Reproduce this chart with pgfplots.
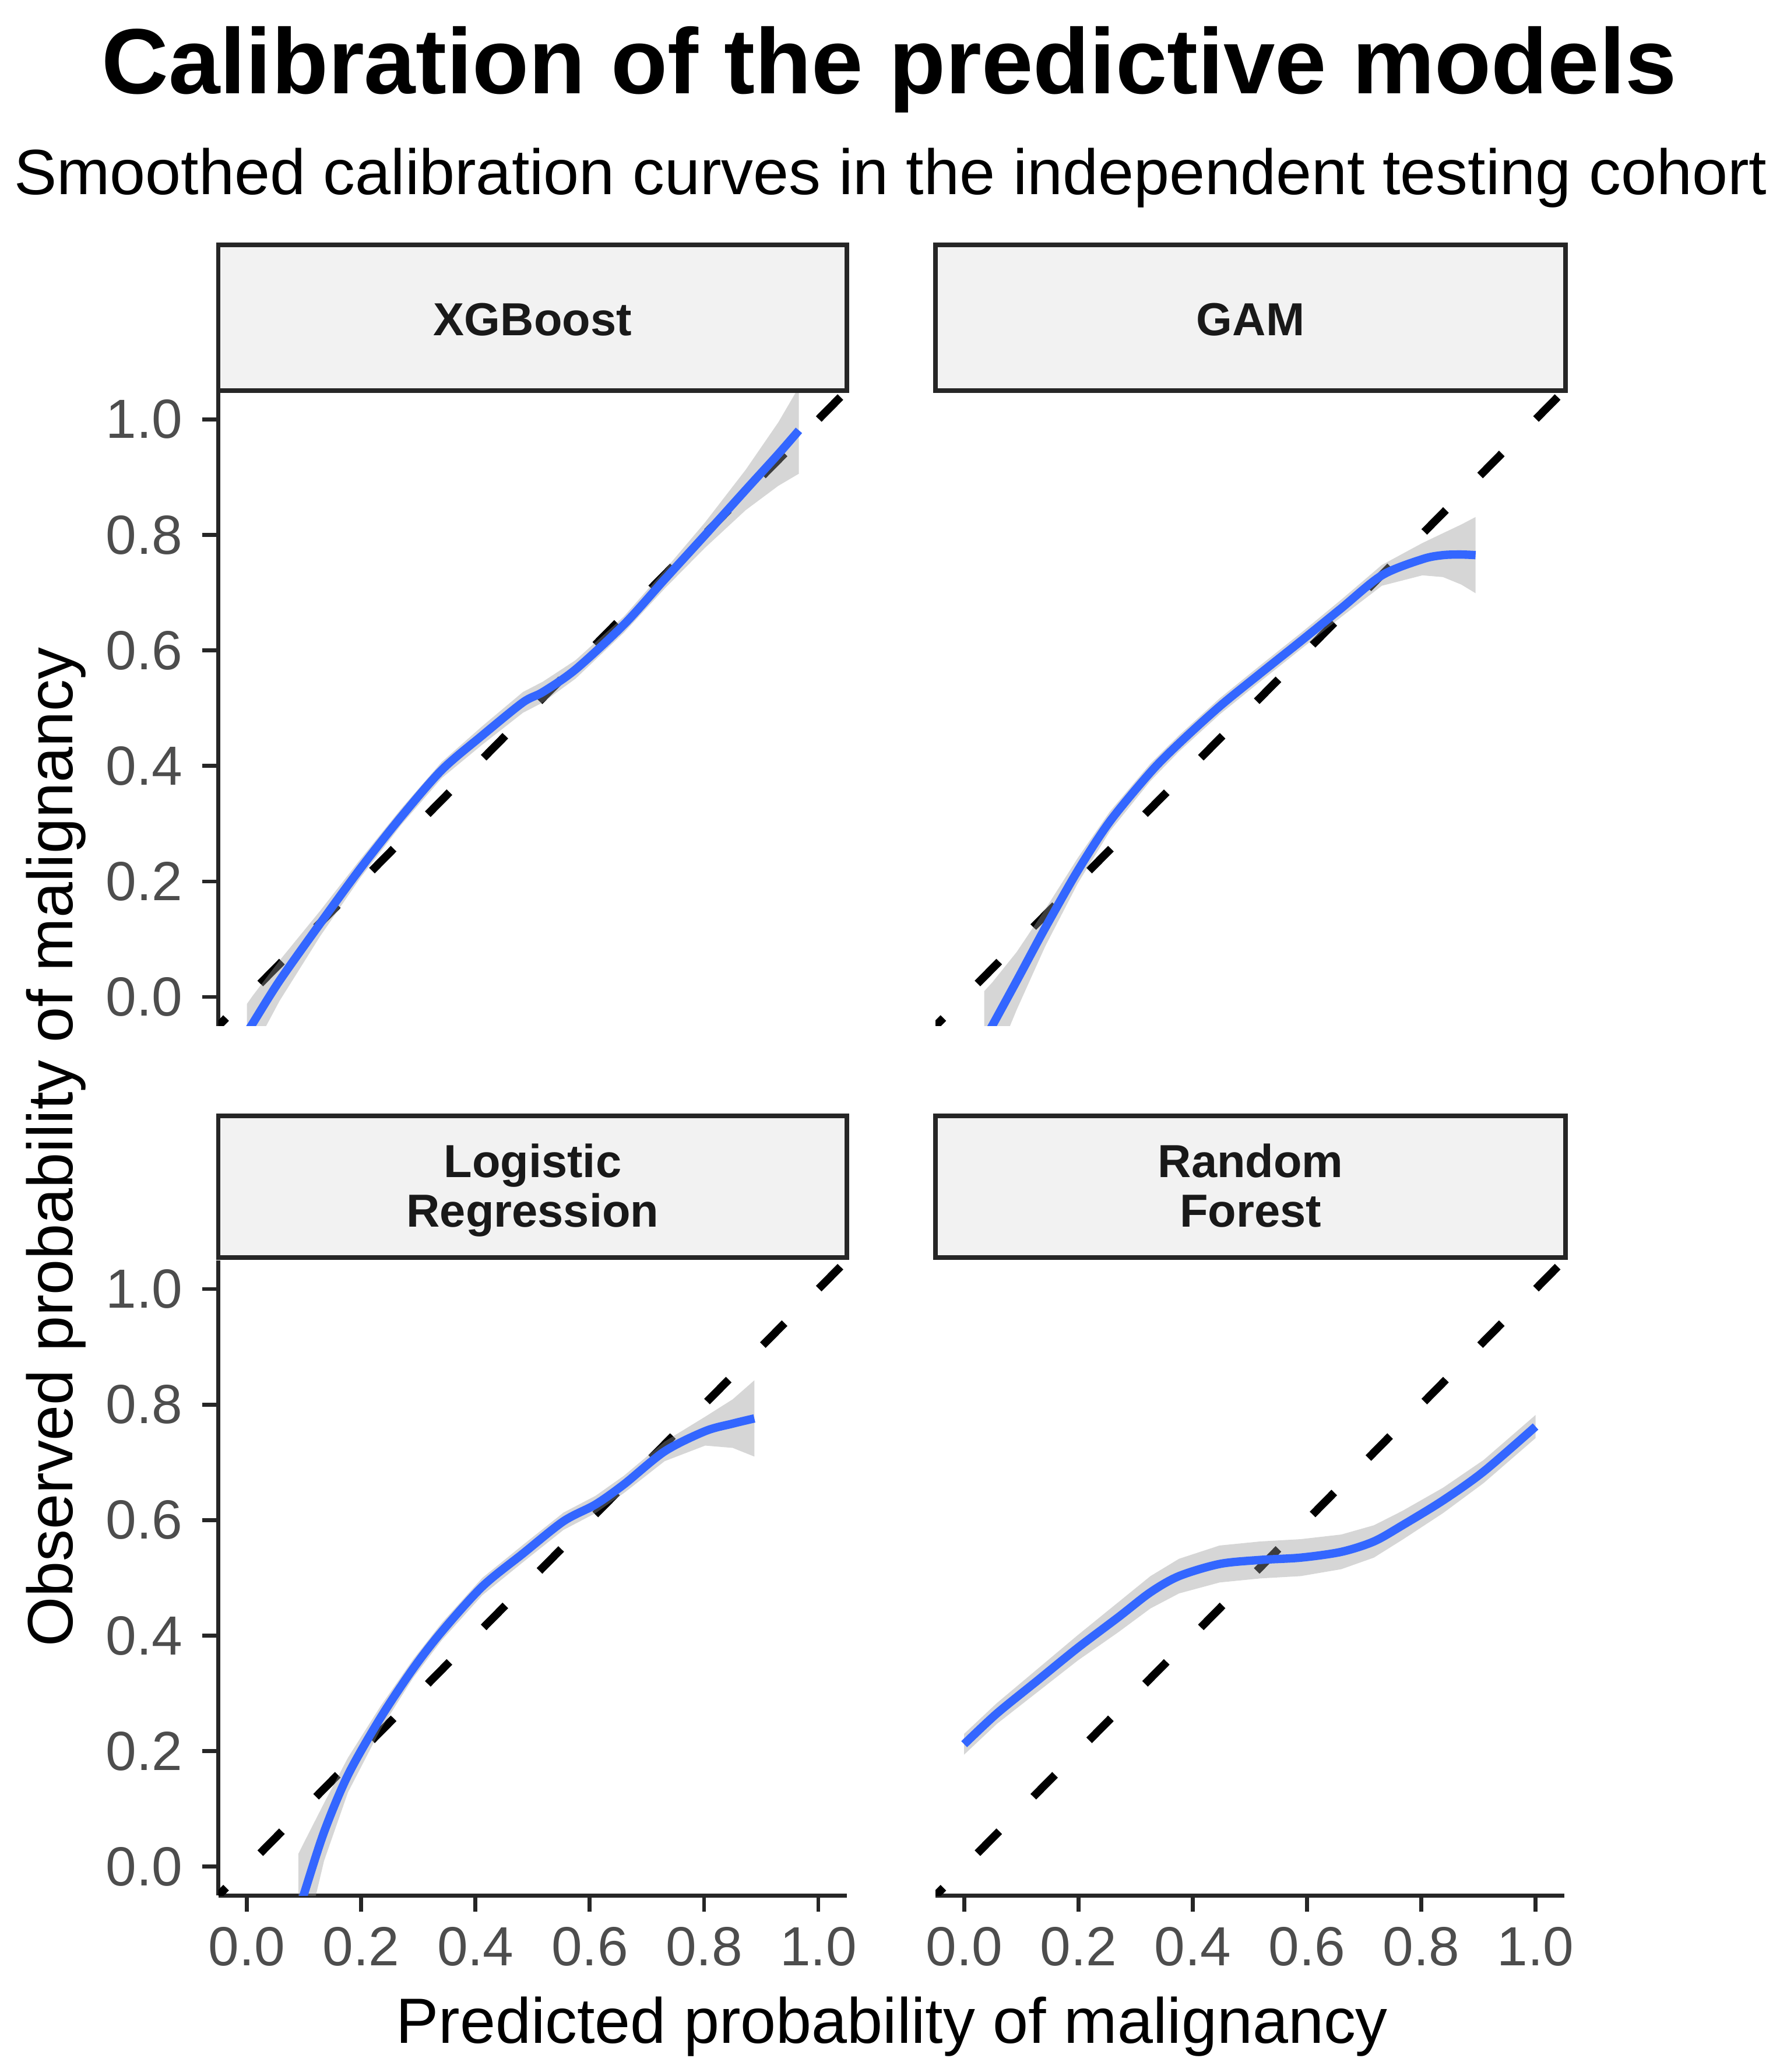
\documentclass[border=0pt]{standalone}
\usepackage{pgfplots}
\pgfplotsset{compat=1.18}
\usepackage{fontspec}
\setmainfont{Liberation Sans}
\definecolor{smoothblue}{HTML}{3366FF}
\definecolor{stripgray}{HTML}{F2F2F2}
\definecolor{tickgray}{HTML}{4D4D4D}

\pgfplotsset{
  panel/.style={
    scale only axis, anchor=south west,
    width=142.5pt, height=144pt,
    xmin=-0.05, xmax=1.05, ymin=-0.05, ymax=1.05,
    xtick={0,0.2,0.4,0.6,0.8,1}, ytick={0,0.2,0.4,0.6,0.8,1},
    xticklabels={0.0,0.2,0.4,0.6,0.8,1.0},
    yticklabels={0.0,0.2,0.4,0.6,0.8,1.0},
    tick align=outside, major tick length=3.6pt,
    tick style={black!85, line width=0.9pt},
    axis line style={black!85, line width=0.9pt, -},
    ticklabel style={font=\fontsize{12.5}{14}\selectfont, text=tickgray},
    yticklabel style={xshift=-1pt},
    clip=true,
  },
  diag/.style={black, line width=1.8pt, dash pattern=on 7pt off 11pt, dash phase=4.5pt},
  band/.style={draw=none, fill=black!40, fill opacity=0.4},
  fit/.style={smoothblue, line width=1.9pt, smooth},
}
\begin{document}
\begin{tikzpicture}
\path[use as bounding box] (0pt,0pt) rectangle (405pt,-469.6pt);

% ---------- XGBoost
\begin{axis}[panel, at={(49.5pt,-232.5pt)}, axis x line=none, axis y line*=left]
\addplot[diag] coordinates {(-0.05,-0.05) (1.05,1.05)};
\addplot[band] coordinates {
(0.000,-0.012) (0.010,0.002) (0.057,0.063) (0.128,0.149) (0.199,0.239) (0.270,0.326) (0.341,0.407) (0.412,0.469) (0.483,0.528) (0.518,0.546) (0.575,0.583) (0.660,0.659) (0.731,0.739) (0.802,0.822) (0.873,0.913) (0.930,0.995) (0.966,1.056)
(0.966,0.906) (0.930,0.885) (0.873,0.843) (0.802,0.778) (0.731,0.707) (0.660,0.631) (0.575,0.551) (0.518,0.510) (0.483,0.492) (0.412,0.437) (0.341,0.379) (0.270,0.298) (0.199,0.207) (0.128,0.105) (0.057,-0.007) (0.010,-0.094) (0.000,-0.112)
} -- cycle;
\addplot[fit] coordinates {
(0.000,-0.062) (0.010,-0.046) (0.057,0.028) (0.128,0.127) (0.199,0.223) (0.270,0.312) (0.341,0.393) (0.412,0.453) (0.483,0.510) (0.518,0.528) (0.575,0.567) (0.660,0.645) (0.731,0.723) (0.802,0.800) (0.873,0.878) (0.930,0.940) (0.966,0.981)
};
\end{axis}

% ---------- GAM
\begin{axis}[panel, at={(212.1pt,-232.5pt)}, axis x line=none, axis y line=none]
\addplot[diag] coordinates {(-0.05,-0.05) (1.05,1.05)};
\addplot[band] coordinates {
(0.035,0.010) (0.049,0.025) (0.092,0.078) (0.142,0.152) (0.199,0.241) (0.255,0.321) (0.326,0.404) (0.376,0.453) (0.447,0.517) (0.518,0.574) (0.589,0.630) (0.660,0.688) (0.731,0.748) (0.802,0.786) (0.838,0.803) (0.870,0.818) (0.895,0.831)
(0.895,0.699) (0.870,0.714) (0.838,0.727) (0.802,0.730) (0.731,0.712) (0.660,0.658) (0.589,0.602) (0.518,0.546) (0.447,0.489) (0.376,0.425) (0.326,0.374) (0.255,0.287) (0.199,0.197) (0.142,0.088) (0.092,-0.022) (0.049,-0.125) (0.035,-0.160)
} -- cycle;
\addplot[fit] coordinates {
(0.035,-0.075) (0.049,-0.050) (0.092,0.028) (0.142,0.120) (0.199,0.219) (0.255,0.304) (0.326,0.389) (0.376,0.439) (0.447,0.503) (0.518,0.560) (0.589,0.616) (0.660,0.673) (0.731,0.730) (0.802,0.758) (0.838,0.765) (0.870,0.766) (0.895,0.765)
};
\end{axis}

% ---------- Logistic Regression
\begin{axis}[panel, at={(49.5pt,-429.6pt)}, axis x line*=bottom, axis y line*=left]
\addplot[diag] coordinates {(-0.05,-0.05) (1.05,1.05)};
\addplot[band] coordinates {
(0.090,0.022) (0.099,0.040) (0.135,0.110) (0.177,0.189) (0.234,0.278) (0.291,0.359) (0.341,0.422) (0.412,0.500) (0.483,0.557) (0.554,0.613) (0.610,0.642) (0.660,0.677) (0.731,0.736) (0.802,0.779) (0.850,0.809) (0.888,0.842)
(0.888,0.710) (0.850,0.725) (0.802,0.729) (0.731,0.702) (0.660,0.647) (0.610,0.612) (0.554,0.583) (0.483,0.527) (0.412,0.470) (0.341,0.392) (0.291,0.327) (0.234,0.238) (0.177,0.129) (0.135,0.010) (0.099,-0.140) (0.090,-0.178)
} -- cycle;
\addplot[fit] coordinates {
(0.090,-0.078) (0.099,-0.050) (0.135,0.060) (0.177,0.159) (0.234,0.258) (0.291,0.343) (0.341,0.407) (0.412,0.485) (0.483,0.542) (0.554,0.598) (0.610,0.627) (0.660,0.662) (0.731,0.719) (0.802,0.754) (0.850,0.767) (0.888,0.776)
};
\end{axis}

% ---------- Random Forest
\begin{axis}[panel, at={(212.1pt,-429.6pt)}, axis x line*=bottom, axis y line=none]
\addplot[diag] coordinates {(-0.05,-0.05) (1.05,1.05)};
\addplot[band] coordinates {
(0.000,0.230) (0.057,0.283) (0.128,0.342) (0.199,0.401) (0.270,0.458) (0.326,0.503) (0.376,0.533) (0.447,0.556) (0.518,0.563) (0.589,0.567) (0.660,0.575) (0.717,0.591) (0.767,0.616) (0.838,0.656) (0.909,0.704) (1.000,0.782)
(1.000,0.742) (0.909,0.664) (0.838,0.612) (0.767,0.566) (0.717,0.535) (0.660,0.515) (0.589,0.503) (0.518,0.499) (0.447,0.492) (0.376,0.473) (0.326,0.447) (0.270,0.406) (0.199,0.357) (0.128,0.302) (0.057,0.247) (0.000,0.194)
} -- cycle;
\addplot[fit] coordinates {
(0.000,0.212) (0.057,0.265) (0.128,0.322) (0.199,0.379) (0.270,0.432) (0.326,0.475) (0.376,0.503) (0.447,0.524) (0.518,0.531) (0.589,0.535) (0.660,0.545) (0.717,0.563) (0.767,0.591) (0.838,0.634) (0.909,0.684) (1.000,0.762)
};
\end{axis}

% ---------- strips
\begin{scope}[line width=1.0pt, draw=black!85]
\draw[fill=stripgray] (49.5pt,-55.5pt) rectangle (192pt,-88.5pt);
\draw[fill=stripgray] (212.1pt,-55.5pt) rectangle (354.9pt,-88.5pt);
\draw[fill=stripgray] (49.5pt,-252.9pt) rectangle (192pt,-285pt);
\draw[fill=stripgray] (212.1pt,-252.9pt) rectangle (354.9pt,-285pt);
\end{scope}
\begin{scope}[every node/.style={font=\bfseries\fontsize{10.5}{11.3}\selectfont, text=black!90, inner sep=0pt}]
\node[anchor=base] at (120.75pt,-76.1pt) {XGBoost};
\node[anchor=base] at (283.5pt,-76.1pt) {GAM};
\node[anchor=base] at (120.75pt,-266.8pt) {Logistic};
\node[anchor=base] at (120.75pt,-278.1pt) {Regression};
\node[anchor=base] at (283.5pt,-266.8pt) {Random};
\node[anchor=base] at (283.5pt,-278.1pt) {Forest};
\end{scope}

% ---------- titles
\node[anchor=base, inner sep=0pt, font=\bfseries\fontsize{21}{25}\selectfont] at (201.6pt,-21.15pt) {Calibration of the predictive models};
\node[anchor=base, inner sep=0pt, font=\fontsize{14.5}{17}\selectfont] at (201.9pt,-44.0pt) {Smoothed calibration curves in the independent testing cohort};
\node[anchor=base, inner sep=0pt, font=\fontsize{14.5}{17}\selectfont] at (202.2pt,-463pt) {Predicted probability of malignancy};
\node[anchor=base, inner sep=0pt, rotate=90, font=\fontsize{14.5}{17}\selectfont] at (16.5pt,-260pt) {Observed probability of malignancy};
\end{tikzpicture}
\end{document}
